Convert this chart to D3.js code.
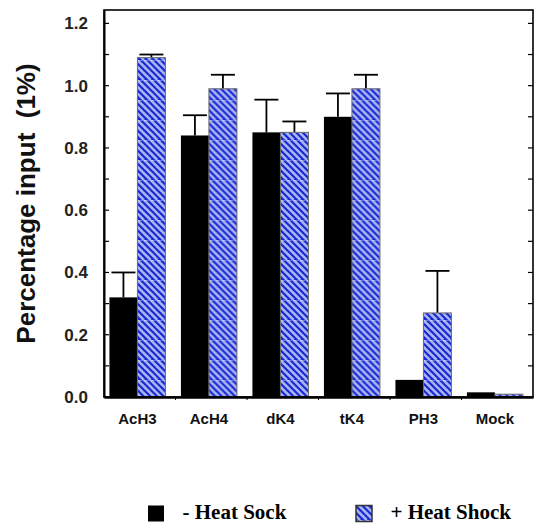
<!DOCTYPE html>
<html>
<head>
<meta charset="utf-8">
<script src="https://cdn.jsdelivr.net/npm/d3@7.9.0/dist/d3.min.js"></script>
<style>
  body { margin: 0; background: #fff; }
  svg { display: block; }
</style>
</head>
<body>
<div id="chart"></div>
<script>
const categories = ['AcH3', 'AcH4', 'dK4', 'tK4', 'PH3', 'Mock'];
const minusHeat = [0.32, 0.84, 0.85, 0.90, 0.055, 0.015];
const minusErr = [0.08, 0.065, 0.105, 0.075, 0, 0];
const plusHeat = [1.09, 0.99, 0.85, 0.99, 0.27, 0.009];
const plusErr = [0.01, 0.045, 0.035, 0.045, 0.135, 0];
const yTicks = [0, 0.2, 0.4, 0.6, 0.8, 1.0, 1.2];
const yMinor = d3.range(0, 1.21, 0.1);
const seriesNames = ['- Heat Sock', '+ Heat Shock'];

const width = 536;
const height = 527;
const margin = { top: 10, right: 3, bottom: 130, left: 104 };
const sans = '"Liberation Sans", Arial, Helvetica, sans-serif';
const serif = '"Liberation Serif", "Times New Roman", serif';

const svg = d3.select('#chart')
  .append('svg')
  .attr('width', width)
  .attr('height', height);

// blue diagonal hatch
const defs = svg.append('defs');
const pat = defs.append('pattern')
  .attr('id', 'hatch')
  .attr('patternUnits', 'userSpaceOnUse')
  .attr('width', 20)
  .attr('height', 20);
pat.append('rect').attr('width', 20).attr('height', 20).attr('fill', '#1428d2');
[-20, -13.33, -6.67, 0, 6.67, 13.33, 20].forEach(x0 => {
  pat.append('line')
    .attr('x1', x0).attr('y1', 0)
    .attr('x2', x0 + 20).attr('y2', 20)
    .attr('stroke', '#aab2f2')
    .attr('stroke-width', 2.6);
});
pat.append('rect').attr('width', 20).attr('height', 1).attr('fill', '#fff').attr('opacity', 0.35);

const x = d3.scaleBand()
  .domain(categories)
  .range([margin.left, width - margin.right])
  .padding(0);

const xSub = d3.scaleBand()
  .domain([0, 1])
  .range([0, x.bandwidth()])
  .paddingOuter(0.277)
  .paddingInner(0)
  .align(0.35);

const y = d3.scaleLinear()
  .domain([0, 1.243])
  .range([height - margin.bottom, margin.top]);

const rows = categories.map((c, i) => ({
  cat: c,
  vals: [
    { s: 0, v: minusHeat[i], e: minusErr[i] },
    { s: 1, v: plusHeat[i], e: plusErr[i] }
  ]
}));

// error bars (drawn under bars)
const errG = svg.append('g');
rows.forEach(r => {
  r.vals.forEach(d => {
    if (d.e <= 0) return;
    const cx = x(r.cat) + xSub(d.s) + xSub.bandwidth() / 2;
    errG.append('line')
      .attr('x1', cx).attr('x2', cx)
      .attr('y1', y(d.v)).attr('y2', y(d.v + d.e))
      .attr('stroke', '#000').attr('stroke-width', 1.8);
    errG.append('line')
      .attr('x1', cx - 12).attr('x2', cx + 12)
      .attr('y1', y(d.v + d.e)).attr('y2', y(d.v + d.e))
      .attr('stroke', '#000').attr('stroke-width', 1.8);
  });
});

// bars
svg.append('g')
  .selectAll('g')
  .data(rows)
  .join('g')
  .attr('transform', d => `translate(${x(d.cat)},0)`)
  .selectAll('rect')
  .data(d => d.vals)
  .join('rect')
  .attr('x', d => xSub(d.s))
  .attr('width', xSub.bandwidth())
  .attr('y', d => y(d.v))
  .attr('height', d => y(0) - y(d.v))
  .attr('fill', d => d.s === 0 ? '#000' : 'url(#hatch)')
  .attr('stroke', d => d.s === 0 ? 'none' : '#6a6a6a')
  .attr('stroke-width', 1);

// frame
svg.append('rect')
  .attr('x', margin.left)
  .attr('y', margin.top)
  .attr('width', width - margin.right - margin.left)
  .attr('height', y(0) - margin.top)
  .attr('fill', 'none')
  .attr('stroke', '#000')
  .attr('stroke-width', 1.6);

// left axis
const left = svg.append('g')
  .attr('transform', `translate(${margin.left},0)`)
  .call(d3.axisLeft(y).tickValues(yTicks).tickFormat(d3.format('.1f')).tickSize(0).tickPadding(16));
left.select('.domain').attr('stroke-width', 2);
left.selectAll('text')
  .attr('font-family', sans)
  .attr('font-weight', 'bold')
  .attr('font-size', 17)
  .attr('fill', '#222');
svg.append('g')
  .selectAll('line')
  .data(yMinor)
  .join('line')
  .attr('x1', margin.left).attr('x2', margin.left + 5)
  .attr('y1', d => y(d)).attr('y2', d => y(d))
  .attr('stroke', '#000').attr('stroke-width', 1.2);

// right axis ticks
svg.append('g')
  .selectAll('line')
  .data(yMinor.filter(d => d > 0.05))
  .join('line')
  .attr('x1', width - margin.right).attr('x2', width - margin.right - 5)
  .attr('y1', d => y(d)).attr('y2', d => y(d))
  .attr('stroke', '#000').attr('stroke-width', 1.2);

// bottom axis
const bottom = svg.append('g')
  .attr('transform', `translate(0,${y(0)})`)
  .call(d3.axisBottom(x).tickSize(0).tickPadding(0));
bottom.select('.domain').attr('stroke-width', 2.5);
bottom.selectAll('.tick text')
  .attr('x', xSub(0) + xSub.bandwidth() - x.bandwidth() / 2)
  .attr('y', 27)
  .attr('dy', 0)
  .attr('font-family', sans)
  .attr('font-weight', 'bold')
  .attr('font-size', 15)
  .attr('fill', '#111');
svg.append('g')
  .selectAll('line')
  .data(categories.slice(1))
  .join('line')
  .attr('x1', d => x(d)).attr('x2', d => x(d))
  .attr('y1', y(0)).attr('y2', y(0) + 3)
  .attr('stroke', '#000').attr('stroke-width', 1);

// y label
svg.append('text')
  .attr('transform', `translate(35,${(margin.top + y(0)) / 2}) rotate(-90)`)
  .attr('text-anchor', 'middle')
  .attr('font-family', sans)
  .attr('font-weight', 'bold')
  .attr('font-size', 26)
  .attr('fill', '#111')
  .attr('xml:space', 'preserve')
  .text('Percentage input  (1%)');

// legend
const legendX = [148, 356];
const legend = svg.append('g');
seriesNames.forEach((name, i) => {
  legend.append('rect')
    .attr('x', legendX[i])
    .attr('y', 505.5)
    .attr('width', 16)
    .attr('height', 16)
    .attr('fill', i === 0 ? '#000' : 'url(#hatch)')
    .attr('stroke', i === 0 ? 'none' : '#333')
    .attr('stroke-width', 1.5);
  legend.append('text')
    .attr('x', legendX[i] + 34.5)
    .attr('y', 519)
    .attr('font-family', serif)
    .attr('font-weight', 'bold')
    .attr('font-size', 21)
    .attr('fill', '#000')
    .text(name);
});
</script>
</body>
</html>
